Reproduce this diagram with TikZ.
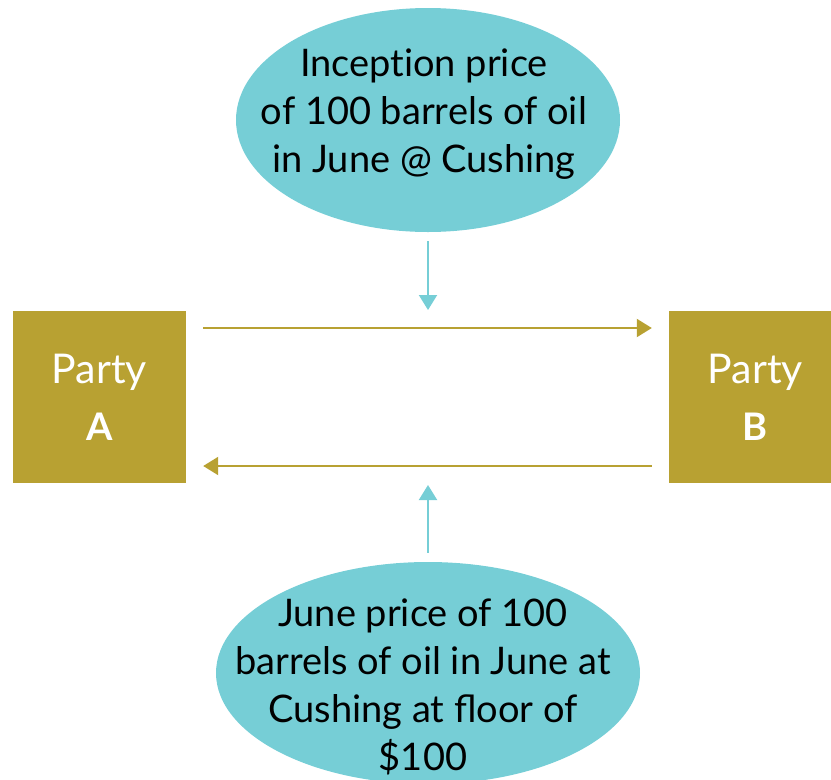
\documentclass[tikz,border=0pt]{standalone}
\usepackage{fontspec}
\setmainfont{Lato}
\usetikzlibrary{arrows.meta, shapes.geometric}
\definecolor{bubblecol}{HTML}{76CED6}
\definecolor{partycol}{HTML}{B8A132}

\begin{document}
\begin{tikzpicture}[x=1pt, y=-1pt, >={Triangle[length=15pt, width=18pt]},
    bubble/.style={ellipse, fill=bubblecol, inner sep=0pt},
    words/.style={align=center, inner sep=0pt, font=\fontsize{38}{48}\selectfont},
    party/.style={rectangle, fill=partycol, minimum width=173pt, minimum height=172pt,
      inner sep=0pt, align=center, text=white, font=\fontsize{41}{57}\selectfont},
    flow/.style={->, draw=partycol, line width=2pt},
    feed/.style={->, draw=bubblecol, line width=2pt}]

    %define the frame
    \clip (0,0) rectangle (831,780);

    %define the parties
    \node[party] (pa) at (99.5,397) {Party\\{\fontsize{38}{57}\selectfont\bfseries A}};
    \node[party] (pb) at (755.5,397) {Party\\{\fontsize{38}{57}\selectfont\bfseries B}};

    %define the bubbles
    \node[bubble, minimum width=384pt, minimum height=224pt] (inception) at (428,120) {};
    \node[words] (inceptiontext) at (424,114) {{\addfontfeatures{Ligatures=NoCommon}Inception} price\\of 100 barrels of oil\\in June @ Cushing};
    \node[bubble, minimum width=424pt, minimum height=222pt] (june) at (428,673) {};
    \node[words] (junetext) at (423,687) {June price of 100\\barrels of oil in June at\\Cushing at floor of\\\$100};

    %define the arrow ends
    \coordinate (topin) at (428,310);
    \coordinate (botin) at (428,485);

    %define the links
    \draw[flow] ([xshift=17pt, yshift=69pt]pa.east) -- ([xshift=-17pt, yshift=69pt]pb.west);
    \draw[flow] ([xshift=-17pt, yshift=-69pt]pb.west) -- ([xshift=17pt, yshift=-69pt]pa.east);
    \draw[feed] ([yshift=-9pt]inception.south) -- (topin);
    \draw[feed] ([yshift=9pt]june.north) -- (botin);
\end{tikzpicture}
\end{document}
